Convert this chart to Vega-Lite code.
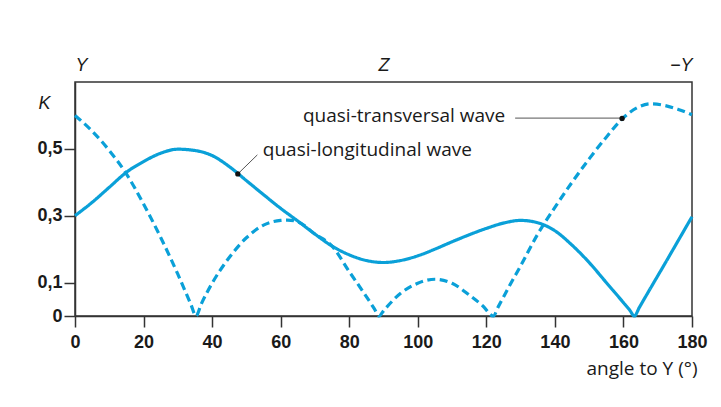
{
  "$schema": "https://vega.github.io/schema/vega-lite/v6.json",
  "width": 617,
  "height": 234,
  "autosize": {"type": "none"},
  "padding": {"left": 75, "top": 82, "right": 29, "bottom": 91},
  "background": "white",
  "config": {"view": {"stroke": "#333333", "strokeWidth": 1.5}, "axis": {"grid": false}},
  "datasets": {
    "curves": [
      {"wave": "quasi-longitudinal", "angle": 0, "K": 0.300},
      {"wave": "quasi-longitudinal", "angle": 5, "K": 0.340},
      {"wave": "quasi-longitudinal", "angle": 10, "K": 0.385},
      {"wave": "quasi-longitudinal", "angle": 15, "K": 0.430},
      {"wave": "quasi-longitudinal", "angle": 20, "K": 0.462},
      {"wave": "quasi-longitudinal", "angle": 25, "K": 0.487},
      {"wave": "quasi-longitudinal", "angle": 30, "K": 0.499},
      {"wave": "quasi-longitudinal", "angle": 35, "K": 0.495},
      {"wave": "quasi-longitudinal", "angle": 40, "K": 0.480},
      {"wave": "quasi-longitudinal", "angle": 45, "K": 0.447},
      {"wave": "quasi-longitudinal", "angle": 50, "K": 0.405},
      {"wave": "quasi-longitudinal", "angle": 55, "K": 0.363},
      {"wave": "quasi-longitudinal", "angle": 60, "K": 0.322},
      {"wave": "quasi-longitudinal", "angle": 65, "K": 0.284},
      {"wave": "quasi-longitudinal", "angle": 70, "K": 0.245},
      {"wave": "quasi-longitudinal", "angle": 75, "K": 0.209},
      {"wave": "quasi-longitudinal", "angle": 80, "K": 0.183},
      {"wave": "quasi-longitudinal", "angle": 85, "K": 0.166},
      {"wave": "quasi-longitudinal", "angle": 90, "K": 0.160},
      {"wave": "quasi-longitudinal", "angle": 95, "K": 0.166},
      {"wave": "quasi-longitudinal", "angle": 100, "K": 0.180},
      {"wave": "quasi-longitudinal", "angle": 105, "K": 0.200},
      {"wave": "quasi-longitudinal", "angle": 110, "K": 0.222},
      {"wave": "quasi-longitudinal", "angle": 115, "K": 0.243},
      {"wave": "quasi-longitudinal", "angle": 120, "K": 0.262},
      {"wave": "quasi-longitudinal", "angle": 125, "K": 0.278},
      {"wave": "quasi-longitudinal", "angle": 130, "K": 0.286},
      {"wave": "quasi-longitudinal", "angle": 135, "K": 0.279},
      {"wave": "quasi-longitudinal", "angle": 140, "K": 0.255},
      {"wave": "quasi-longitudinal", "angle": 145, "K": 0.212},
      {"wave": "quasi-longitudinal", "angle": 150, "K": 0.160},
      {"wave": "quasi-longitudinal", "angle": 155, "K": 0.100},
      {"wave": "quasi-longitudinal", "angle": 160, "K": 0.040},
      {"wave": "quasi-longitudinal", "angle": 161.8, "K": 0.018},
      {"wave": "quasi-longitudinal", "angle": 163.2, "K": 0},
      {"wave": "quasi-longitudinal", "angle": 164.6, "K": 0.025},
      {"wave": "quasi-longitudinal", "angle": 168, "K": 0.085},
      {"wave": "quasi-longitudinal", "angle": 172, "K": 0.155},
      {"wave": "quasi-longitudinal", "angle": 176, "K": 0.226},
      {"wave": "quasi-longitudinal", "angle": 180, "K": 0.297},
      {"wave": "quasi-transversal", "angle": 0, "K": 0.600},
      {"wave": "quasi-transversal", "angle": 5, "K": 0.553},
      {"wave": "quasi-transversal", "angle": 10, "K": 0.495},
      {"wave": "quasi-transversal", "angle": 15, "K": 0.425},
      {"wave": "quasi-transversal", "angle": 20, "K": 0.335},
      {"wave": "quasi-transversal", "angle": 25, "K": 0.235},
      {"wave": "quasi-transversal", "angle": 30, "K": 0.125},
      {"wave": "quasi-transversal", "angle": 33.8, "K": 0.035},
      {"wave": "quasi-transversal", "angle": 35.3, "K": 0},
      {"wave": "quasi-transversal", "angle": 36.8, "K": 0.035},
      {"wave": "quasi-transversal", "angle": 40, "K": 0.098},
      {"wave": "quasi-transversal", "angle": 45, "K": 0.175},
      {"wave": "quasi-transversal", "angle": 50, "K": 0.234},
      {"wave": "quasi-transversal", "angle": 55, "K": 0.272},
      {"wave": "quasi-transversal", "angle": 60, "K": 0.286},
      {"wave": "quasi-transversal", "angle": 62, "K": 0.287},
      {"wave": "quasi-transversal", "angle": 65, "K": 0.282},
      {"wave": "quasi-transversal", "angle": 70, "K": 0.245},
      {"wave": "quasi-transversal", "angle": 75, "K": 0.209},
      {"wave": "quasi-transversal", "angle": 80, "K": 0.133},
      {"wave": "quasi-transversal", "angle": 85, "K": 0.058},
      {"wave": "quasi-transversal", "angle": 87.3, "K": 0.022},
      {"wave": "quasi-transversal", "angle": 88.7, "K": 0},
      {"wave": "quasi-transversal", "angle": 90.2, "K": 0.018},
      {"wave": "quasi-transversal", "angle": 95, "K": 0.068},
      {"wave": "quasi-transversal", "angle": 100, "K": 0.098},
      {"wave": "quasi-transversal", "angle": 105, "K": 0.110},
      {"wave": "quasi-transversal", "angle": 110, "K": 0.098},
      {"wave": "quasi-transversal", "angle": 115, "K": 0.063},
      {"wave": "quasi-transversal", "angle": 119, "K": 0.030},
      {"wave": "quasi-transversal", "angle": 122, "K": 0},
      {"wave": "quasi-transversal", "angle": 123.5, "K": 0.028},
      {"wave": "quasi-transversal", "angle": 127, "K": 0.095},
      {"wave": "quasi-transversal", "angle": 130, "K": 0.150},
      {"wave": "quasi-transversal", "angle": 135, "K": 0.245},
      {"wave": "quasi-transversal", "angle": 140, "K": 0.325},
      {"wave": "quasi-transversal", "angle": 145, "K": 0.400},
      {"wave": "quasi-transversal", "angle": 150, "K": 0.470},
      {"wave": "quasi-transversal", "angle": 155, "K": 0.535},
      {"wave": "quasi-transversal", "angle": 160, "K": 0.593},
      {"wave": "quasi-transversal", "angle": 164, "K": 0.623},
      {"wave": "quasi-transversal", "angle": 168, "K": 0.635},
      {"wave": "quasi-transversal", "angle": 172, "K": 0.630},
      {"wave": "quasi-transversal", "angle": 176, "K": 0.618},
      {"wave": "quasi-transversal", "angle": 180, "K": 0.602}
    ],
    "labels": [
      {"angle": 66.5, "K": 0.580, "text": "quasi-transversal wave"},
      {"angle": 54.8, "K": 0.479, "text": "quasi-longitudinal wave"}
    ],
    "leaders": [
      {"a1": 128.4, "K": 0.592, "a2": 159.6, "k2": 0.592},
      {"a1": 53.2, "K": 0.482, "a2": 47.5, "k2": 0.425}
    ],
    "dots": [
      {"angle": 159.6, "K": 0.591},
      {"angle": 47.5, "K": 0.425}
    ]
  },
  "resolve": {"axis": {"x": "independent"}},
  "layer": [
    {
      "data": {"name": "curves"},
      "mark": {"type": "line", "interpolate": "monotone", "strokeWidth": 3.2, "color": "#0aa0d8"},
      "encoding": {
        "x": {
          "field": "angle", "type": "quantitative",
          "scale": {"domain": [0, 180], "nice": false, "zero": false},
          "axis": {
            "values": [0, 20, 40, 60, 80, 100, 120, 140, 160, 180],
            "tickSize": 11, "tickWidth": 1.5, "tickColor": "#333333",
            "domainColor": "#333333", "domainWidth": 1.5,
            "labelFlush": false, "labelOverlap": false,
            "labelFont": "Liberation Sans", "labelFontWeight": "bold", "labelFontSize": 18, "labelColor": "#1a1a1a",
            "labelPadding": 6,
            "title": "angle to Y (°)",
            "titleFont": "Open Sans", "titleFontSize": 19, "titleFontWeight": "normal", "titleColor": "#1a1a1a",
            "titleX": 622, "titleY": 58, "titleAlign": "right", "titleBaseline": "alphabetic",
            "grid": false
          }
        },
        "y": {
          "field": "K", "type": "quantitative",
          "scale": {"domain": [0, 0.7], "nice": false},
          "axis": {
            "values": [0, 0.1, 0.3, 0.5],
            "labelExpr": "datum.value == 0 ? '0' : replace(format(datum.value, '.1f'), '.', ',')",
            "tickSize": 11, "tickWidth": 1.5, "tickColor": "#333333",
            "domainColor": "#333333", "domainWidth": 1.5,
            "labelFont": "Liberation Sans", "labelFontWeight": "bold", "labelFontSize": 18, "labelColor": "#1a1a1a",
            "labelPadding": 2,
            "title": "K", "titleAngle": 0,
            "titleFont": "Liberation Sans", "titleFontStyle": "italic", "titleFontWeight": "normal", "titleFontSize": 18, "titleColor": "#1a1a1a",
            "titleX": -37, "titleY": 26, "titleAlign": "left", "titleBaseline": "alphabetic",
            "grid": false
          }
        },
        "strokeDash": {
          "field": "wave", "type": "nominal",
          "scale": {"domain": ["quasi-longitudinal", "quasi-transversal"], "range": [[1, 0], [8, 4.5]]},
          "legend": null
        }
      }
    },
    {
      "data": {"name": "leaders"},
      "mark": {"type": "rule", "color": "#555555", "strokeWidth": 1},
      "encoding": {
        "x": {"field": "a1", "type": "quantitative", "axis": null},
        "x2": {"field": "a2"},
        "y": {"field": "K", "type": "quantitative"},
        "y2": {"field": "k2"}
      }
    },
    {
      "data": {"name": "dots"},
      "mark": {"type": "point", "filled": true, "color": "#111111", "size": 28, "opacity": 1},
      "encoding": {
        "x": {"field": "angle", "type": "quantitative", "axis": null},
        "y": {"field": "K", "type": "quantitative"}
      }
    },
    {
      "data": {"name": "labels"},
      "mark": {"type": "text", "align": "left", "baseline": "alphabetic", "font": "Open Sans", "fontSize": 19, "color": "#1a1a1a"},
      "encoding": {
        "x": {
          "field": "angle", "type": "quantitative",
          "axis": {
            "orient": "top",
            "values": [0, 90, 180],
            "labelExpr": "datum.value == 0 ? 'Y' : datum.value == 90 ? 'Z' : '−Y'",
            "ticks": false, "tickSize": 0, "domain": false,
            "labelFlush": true, "labelOverlap": false,
            "labelFont": "Liberation Sans", "labelFontStyle": "italic", "labelFontSize": 18, "labelColor": "#1a1a1a",
            "labelPadding": 12, "labelBaseline": "alphabetic",
            "title": null, "grid": false
          }
        },
        "y": {"field": "K", "type": "quantitative"},
        "text": {"field": "text"}
      }
    }
  ]
}
